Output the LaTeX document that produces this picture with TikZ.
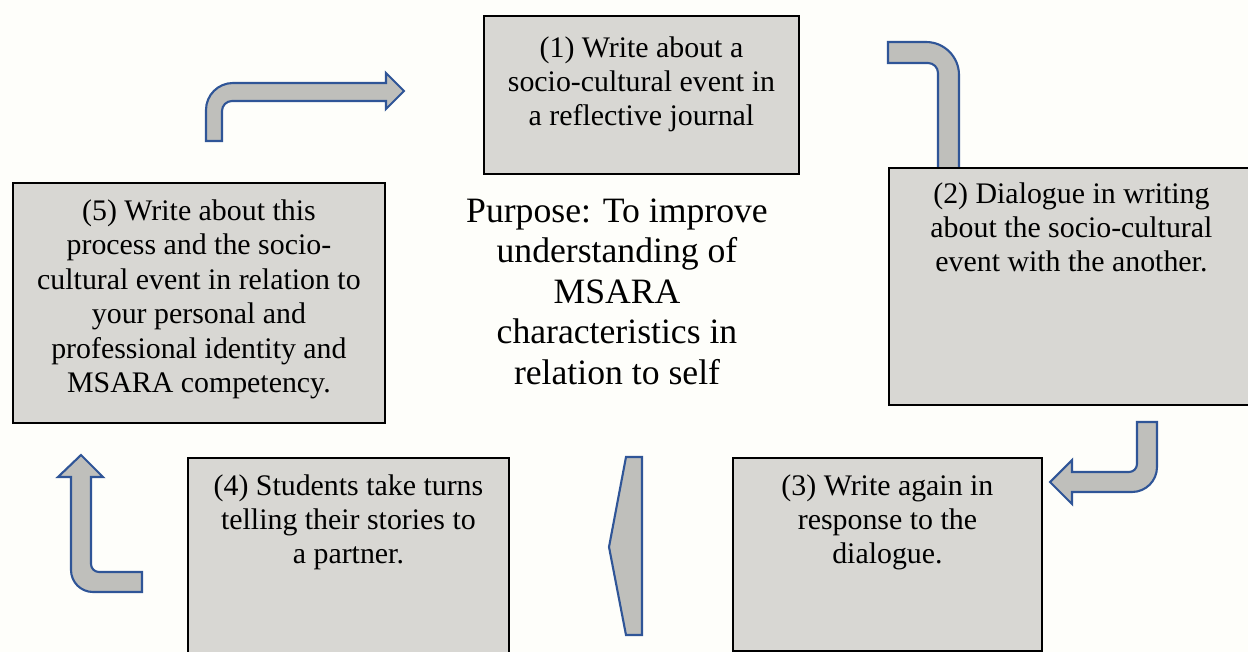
\documentclass[tikz,border=0pt]{standalone}
\usepackage{fontspec}
\setmainfont{LiberationSerif}[Extension=.ttf,UprightFont=*-Regular,BoldFont=*-Bold]
\definecolor{bgcol}{RGB}{254,254,250}
\definecolor{boxgray}{RGB}{216,215,211}
\definecolor{arrowgray}{RGB}{191,191,187}
\definecolor{arrowblue}{RGB}{47,85,151}
\begin{document}
\begin{tikzpicture}[x=0.02cm,y=-0.02cm,
  stepbox/.style={draw=black,line width=1.1pt,fill=boxgray,anchor=north west,inner sep=0pt},
  steptext/.style={anchor=base,align=center,inner sep=0pt,font=\fontsize{17}{19.6}\selectfont},
  bentarrow/.style={draw=arrowblue,line width=1.2pt,fill=arrowgray,line join=miter}]
\fill[bgcol] (0,0) rectangle (1248,652);
\useasboundingbox (0,0) rectangle (1248,652);
\clip (0,0) rectangle (1248,652);
% arrows
\filldraw[bentarrow] (206,141) [rounded corners=0.54cm] -- (206,83) [sharp corners] -- (386,83) -- (386,73) -- (404,91) -- (386,109) -- (386,101) [rounded corners=0.2cm] -- (222,101) [sharp corners] -- (222,141) -- cycle;
\filldraw[bentarrow] (888,42) [rounded corners=0.66cm] -- (959,42) [sharp corners] -- (959,180) -- (938,180) [rounded corners=0.2cm] -- (938,63) [sharp corners] -- (888,63) -- cycle;
\filldraw[bentarrow] (1157,422) [rounded corners=0.5cm] -- (1157,492) [sharp corners] -- (1072,492) -- (1072,504) -- (1050,482) -- (1072,460) -- (1072,472) [rounded corners=0.16cm] -- (1137,472) [sharp corners] -- (1137,422) -- cycle;
\filldraw[bentarrow] (142,592) [rounded corners=0.44cm] -- (71,592) [sharp corners] -- (71,477) -- (58,477) -- (81,455) -- (103,477) -- (91,477) [rounded corners=0.16cm] -- (91,572) [sharp corners] -- (142,572) -- cycle;
\filldraw[bentarrow] (626,457) -- (642,457) -- (642,635) -- (626,635) -- (609,547) -- cycle;
% boxes
\node[stepbox,minimum width=6.30cm,minimum height=3.16cm] (s1) at (483,15) {};
\node[stepbox,minimum width=7.30cm,minimum height=4.74cm] (s2) at (888,167) {};
\node[stepbox,minimum width=6.18cm,minimum height=3.86cm] (s3) at (732,457) {};
\node[stepbox,minimum width=6.42cm,minimum height=4.06cm] (s4) at (187,457) {};
\node[stepbox,minimum width=7.44cm,minimum height=4.80cm] (s5) at (12,182) {};
% texts (base = last line)
\node[steptext] (t1) at ([yshift=-2.22cm]s1.north) {(1) Write about a\\socio-cultural event in\\a reflective journal};
\node[steptext] (t2) at ([yshift=-2.10cm]s2.north) {(2) Dialogue in writing\\about the socio-cultural\\event with the another.};
\node[steptext] (t3) at ([yshift=-2.14cm]s3.north) {(3) Write again in\\response to the\\dialogue.};
\node[steptext] (t4) at ([yshift=-2.14cm]s4.north) {(4) Students take turns\\telling their stories to\\a partner.};
\node[steptext] (t5) at ([yshift=-4.21cm]s5.north) {(5) Write about this\\process and the socio-\\cultural event in relation to\\your personal and\\professional identity and\\MSARA competency.};
\node[anchor=base,align=center,inner sep=0pt,font=\fontsize{20.3}{23}\selectfont] (purpose) at (617,384) {Purpose: To improve\\understanding of\\MSARA\\characteristics in\\relation to self};
\end{tikzpicture}
\end{document}
